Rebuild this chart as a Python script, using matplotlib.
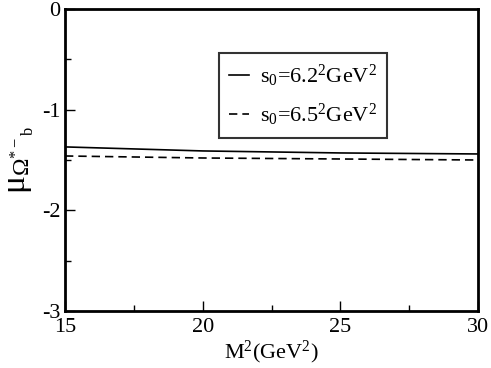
import matplotlib
matplotlib.use("Agg")
import matplotlib.pyplot as plt
import numpy as np
from matplotlib.ticker import MultipleLocator

plt.rcParams['font.family'] = ['Liberation Serif', 'DejaVu Serif']
plt.rcParams['mathtext.fontset'] = 'custom'
plt.rcParams['mathtext.rm'] = 'Liberation Serif'
plt.rcParams['mathtext.it'] = 'Liberation Serif:italic'
plt.rcParams['axes.unicode_minus'] = False

M2 = [15, 17.5, 20, 22.5, 25, 27.5, 30]
mu_62 = [-1.37, -1.39, -1.41, -1.42, -1.43, -1.435, -1.44]
mu_65 = [-1.46, -1.47, -1.48, -1.485, -1.49, -1.495, -1.50]
labels = [r'$\mathrm{s_0}$=6.2$^2$GeV$^2$', r'$\mathrm{s_0}$=6.5$^2$GeV$^2$']

fig = plt.figure(figsize=(4.91, 3.68), dpi=100)
ax = fig.add_axes([65/491, 1-311/368, 413/491, 302/368])
ax.plot(M2, mu_62, color='black', lw=1.2, ls='-', label=labels[0])
ax.plot(M2, mu_65, color='black', lw=1.2, ls=(0, (5, 3)), label=labels[1])
ax.set_xlim(15, 30)
ax.set_ylim(-3, 0)
ax.xaxis.set_major_locator(MultipleLocator(5))
ax.xaxis.set_minor_locator(MultipleLocator(2.5))
ax.yaxis.set_major_locator(MultipleLocator(1))
ax.yaxis.set_minor_locator(MultipleLocator(0.5))
ax.tick_params(which='both', direction='in', labelsize=16, top=False, right=False)
ax.tick_params(which='major', length=7, width=1)
ax.tick_params(which='minor', length=4, width=1)
ax.tick_params(axis='x', pad=5)
for s in ax.spines.values():
    s.set_linewidth(2)
ax.set_xlabel(r'M$^2$(GeV$^2$)', fontsize=16, labelpad=1)
ax.set_ylabel(r'$\mathrm{\mu_{\Omega^{*-}{}_{b}}}$', fontsize=24, labelpad=4)
leg = ax.legend(loc='upper left', bbox_to_anchor=(154/413, 1-44/302), fontsize=16,
                frameon=True, fancybox=False, edgecolor='black', handlelength=0.9,
                handletextpad=0.5, borderpad=0.45, labelspacing=0.55, borderaxespad=0)
leg.get_frame().set_linewidth(1.5)
fig.savefig('out.png', dpi=100)
